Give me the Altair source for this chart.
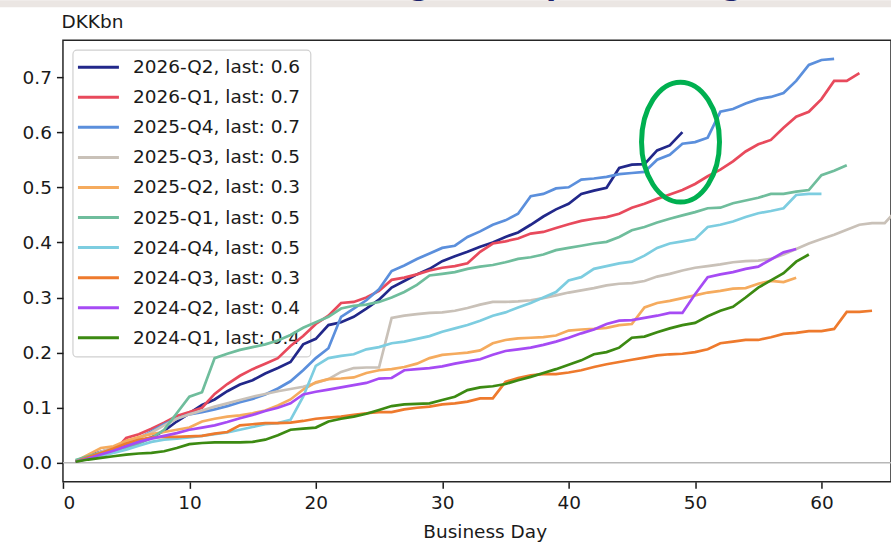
import altair as alt
import pandas as pd

# Cumulative purchases per quarter, by business day (DKK bn)
series_names = ["2026-Q2", "2026-Q1", "2025-Q4", "2025-Q3", "2025-Q2",
                "2025-Q1", "2024-Q4", "2024-Q3", "2024-Q2", "2024-Q1"]
series_colors = ["#22288a", "#e84a5c", "#5b8fdc", "#c9c1b8", "#f5ab5e",
                 "#6fbd9c", "#7dcde0", "#ee7a2d", "#a64bf4", "#3c8a12"]

q2_2026 = [0.003, 0.013, 0.02, 0.026, 0.033, 0.04, 0.046, 0.058, 0.075, 0.09,
           0.105, 0.115, 0.13, 0.142, 0.15, 0.162, 0.172, 0.183, 0.215, 0.225,
           0.25, 0.255, 0.265, 0.28, 0.296, 0.318, 0.33, 0.342, 0.352, 0.366,
           0.375, 0.383, 0.392, 0.4, 0.41, 0.418, 0.432, 0.447, 0.46, 0.47,
           0.488, 0.494, 0.499, 0.535, 0.541, 0.542, 0.567, 0.576, 0.6]
q1_2026 = [0.002, 0.008, 0.013, 0.02, 0.045, 0.052, 0.062, 0.073, 0.085, 0.092,
           0.1, 0.125, 0.143, 0.158, 0.17, 0.18, 0.19, 0.212, 0.23, 0.252,
           0.267, 0.29, 0.292, 0.3, 0.312, 0.332, 0.336, 0.342, 0.349, 0.354,
           0.357, 0.362, 0.383, 0.398, 0.402, 0.407, 0.416, 0.419, 0.426, 0.433,
           0.439, 0.443, 0.446, 0.452, 0.463, 0.47, 0.479, 0.487, 0.495, 0.506,
           0.52, 0.532, 0.547, 0.565, 0.578, 0.586, 0.608, 0.628, 0.637, 0.66,
           0.693, 0.693, 0.707]
q4_2025 = [0.003, 0.01, 0.016, 0.022, 0.03, 0.045, 0.057, 0.07, 0.08, 0.088,
           0.092, 0.097, 0.103, 0.11, 0.116, 0.124, 0.135, 0.148, 0.168, 0.19,
           0.208, 0.265, 0.28, 0.295, 0.315, 0.348, 0.358, 0.37, 0.38, 0.39,
           0.394, 0.41, 0.42, 0.432, 0.44, 0.452, 0.484, 0.488, 0.498, 0.5,
           0.514, 0.516, 0.519, 0.524, 0.526, 0.528, 0.55, 0.559, 0.579, 0.582,
           0.59, 0.637, 0.642, 0.652, 0.66, 0.664, 0.671, 0.693, 0.722, 0.731,
           0.733]
q3_2025 = [0.002, 0.01, 0.02, 0.028, 0.036, 0.045, 0.055, 0.068, 0.08, 0.088,
           0.095, 0.102, 0.108, 0.114, 0.12, 0.125, 0.13, 0.134, 0.138, 0.145,
           0.152, 0.165, 0.172, 0.173, 0.173, 0.263, 0.267, 0.27, 0.272, 0.273,
           0.276, 0.281, 0.287, 0.292, 0.292, 0.293, 0.295, 0.299, 0.304, 0.309,
           0.313, 0.317, 0.322, 0.325, 0.326, 0.33, 0.338, 0.343, 0.349, 0.354,
           0.357, 0.36, 0.364, 0.366, 0.367, 0.37, 0.378, 0.388, 0.398, 0.406,
           0.414, 0.423, 0.432, 0.435, 0.435, 0.46]
q2_2025 = [0.003, 0.015, 0.027, 0.03, 0.04, 0.047, 0.052, 0.056, 0.06, 0.064,
           0.075, 0.08, 0.084, 0.086, 0.09, 0.095, 0.104, 0.115, 0.133, 0.146,
           0.152, 0.153, 0.155, 0.163, 0.168, 0.17, 0.174, 0.18, 0.19, 0.196,
           0.198, 0.2, 0.204, 0.217, 0.223, 0.226, 0.227, 0.228, 0.231, 0.24,
           0.242, 0.243, 0.245, 0.25, 0.252, 0.282, 0.29, 0.294, 0.299, 0.304,
           0.309, 0.312, 0.316, 0.317, 0.325, 0.33, 0.328, 0.336]
q1_2025 = [0.005, 0.012, 0.018, 0.022, 0.028, 0.035, 0.045, 0.06, 0.09, 0.12,
           0.128, 0.19, 0.198, 0.205, 0.21, 0.215, 0.222, 0.232, 0.245, 0.255,
           0.265, 0.28, 0.285, 0.287, 0.292, 0.3, 0.31, 0.323, 0.34, 0.343,
           0.346, 0.352, 0.356, 0.359, 0.364, 0.37, 0.373, 0.378, 0.386, 0.39,
           0.394, 0.398, 0.401, 0.41, 0.422, 0.428, 0.436, 0.443, 0.449, 0.455,
           0.462, 0.463, 0.471, 0.476, 0.481, 0.488, 0.488, 0.492, 0.495, 0.522,
           0.53, 0.54]
q4_2024 = [0.002, 0.008, 0.013, 0.018, 0.024, 0.031, 0.038, 0.042, 0.044, 0.046,
           0.049, 0.052, 0.055, 0.06, 0.065, 0.07, 0.072, 0.078, 0.12, 0.176,
           0.19, 0.194, 0.197, 0.206, 0.21, 0.217, 0.22, 0.225, 0.23, 0.238,
           0.244, 0.25, 0.258, 0.267, 0.273, 0.282, 0.29, 0.3, 0.31, 0.331,
           0.337, 0.352, 0.357, 0.362, 0.365, 0.376, 0.39, 0.398, 0.402, 0.406,
           0.428, 0.432, 0.438, 0.446, 0.453, 0.457, 0.462, 0.486, 0.488, 0.488]
q3_2024 = [0.002, 0.01, 0.018, 0.026, 0.035, 0.042, 0.046, 0.047, 0.047, 0.048,
           0.049, 0.053, 0.056, 0.068, 0.07, 0.072, 0.072, 0.073, 0.076, 0.08,
           0.082, 0.084, 0.087, 0.09, 0.092, 0.092, 0.097, 0.1, 0.102, 0.106,
           0.108, 0.111, 0.117, 0.117, 0.147, 0.154, 0.159, 0.161, 0.161, 0.164,
           0.168, 0.174, 0.179, 0.183, 0.187, 0.191, 0.195, 0.197, 0.198, 0.201,
           0.206, 0.217, 0.22, 0.223, 0.223, 0.228, 0.234, 0.236, 0.239, 0.239,
           0.243, 0.274, 0.274, 0.276]
q2_2024 = [0.002, 0.008, 0.015, 0.022, 0.03, 0.038, 0.044, 0.049, 0.054, 0.06,
           0.064, 0.068, 0.074, 0.081, 0.087, 0.094, 0.1, 0.108, 0.124, 0.129,
           0.133, 0.137, 0.141, 0.145, 0.153, 0.154, 0.168, 0.17, 0.172, 0.175,
           0.18, 0.184, 0.188, 0.196, 0.203, 0.206, 0.209, 0.214, 0.22, 0.227,
           0.235, 0.242, 0.252, 0.258, 0.259, 0.263, 0.267, 0.272, 0.272, 0.306,
           0.337, 0.342, 0.346, 0.352, 0.356, 0.369, 0.382, 0.388]
q1_2024 = [0.002, 0.006, 0.009, 0.012, 0.015, 0.017, 0.018, 0.021, 0.027, 0.034,
           0.036, 0.037, 0.037, 0.037, 0.038, 0.042, 0.05, 0.06, 0.062, 0.064,
           0.075, 0.08, 0.084, 0.089, 0.096, 0.103, 0.106, 0.107, 0.108, 0.114,
           0.12, 0.132, 0.137, 0.139, 0.143, 0.15, 0.156, 0.163, 0.17, 0.178,
           0.186, 0.197, 0.201, 0.209, 0.227, 0.229, 0.237, 0.244, 0.25, 0.254,
           0.266, 0.276, 0.283, 0.3, 0.318, 0.331, 0.344, 0.365, 0.378]

all_series = [q2_2026, q1_2026, q4_2025, q3_2025, q2_2025,
              q1_2025, q4_2024, q3_2024, q2_2024, q1_2024]

x_ticks = [0, 10, 20, 30, 40, 50, 60]
y_ticks = [0.0, 0.1, 0.2, 0.3, 0.4, 0.5, 0.6, 0.7]
x_domain = [0, 65.5]
y_domain = [-0.0345, 0.767]

# highlighted region around the latest quarter's end point
highlight_center = (48.85, 0.582)

FONT = "DejaVu Sans"
FS = 18.5
INK = "#1a1a1a"

rows = []
for name, vals in zip(series_names, all_series):
    for day, v in enumerate(vals, start=1):
        rows.append({"series": name, "day": day, "value": v})
df = pd.DataFrame(rows)

legend_df = pd.DataFrame({
    "series": series_names,
    "label": [f"{n}, last: {vals[-1]:.1f}" for n, vals in zip(series_names, all_series)],
    "row": list(range(len(series_names))),
})

color = alt.Color("series:N", scale=alt.Scale(domain=series_names, range=series_colors),
                  legend=None)

x_enc = alt.X("day:Q", scale=alt.Scale(domain=x_domain, nice=False, zero=False),
              axis=alt.Axis(values=x_ticks, title="Business Day", format="d",
                            labelFont=FONT, labelFontSize=FS, labelColor=INK,
                            titleFont=FONT, titleFontSize=FS, titleColor=INK,
                            titleFontWeight="normal", titleY=56, titleX=422,
                            titleAlign="center", titleBaseline="alphabetic",
                            tickSize=6.5, tickWidth=1.5, tickColor=INK, labelPadding=5,
                            domain=False, grid=False))
y_enc = alt.Y("value:Q", scale=alt.Scale(domain=y_domain, nice=False, zero=False),
              axis=alt.Axis(values=y_ticks, format=".1f", title="DKKbn",
                            labelFont=FONT, labelFontSize=FS, labelColor=INK,
                            titleFont=FONT, titleFontSize=FS, titleColor=INK,
                            titleFontWeight="normal", titleAngle=0, titleAlign="left",
                            titleBaseline="alphabetic", titleX=-2, titleY=-13,
                            tickSize=6.5, tickWidth=1.5, tickColor=INK, labelPadding=5,
                            domain=False, grid=False))

one_row = alt.Data(values=[{}])

# slide header strip above the figure
band = alt.Chart(one_row).mark_rect(color="#ebe6e3").encode(
    x=alt.value(-63), x2=alt.value(830), y=alt.value(-40), y2=alt.value(-33))
header_bits = [
    alt.Chart(one_row).mark_text(text=ch, font=FONT, fontSize=30, fontWeight="bold",
                                 color="#1b1f6b", align="center", baseline="alphabetic")
    .encode(x=alt.value(px), y=alt.value(-45))
    for ch, px in [("g", 357), ("p", 494), ("g", 670)]
]

zero_line = alt.Chart(one_row).mark_rule(color="#b8b8b8", strokeWidth=1.5).encode(
    y=alt.datum(0))

# legend box drawn underneath the series lines
legend_box = alt.Chart(one_row).mark_rect(
    fill="white", stroke="#d0d0d0", strokeWidth=1.2, cornerRadius=4).encode(
    x=alt.value(10), x2=alt.value(248), y=alt.value(10), y2=alt.value(317))
legend_base = alt.Chart(legend_df).transform_calculate(ly="27 + 30.1 * datum.row")
legend_handles = legend_base.mark_rule(strokeWidth=3).encode(
    x=alt.value(15), x2=alt.value(56), y=alt.Y("ly:Q", scale=None), color=color)
legend_text = legend_base.mark_text(
    align="left", baseline="middle", font=FONT, fontSize=FS, color=INK).encode(
    x=alt.value(70), y=alt.Y("ly:Q", scale=None), text="label:N")

lines = alt.Chart(df).mark_line(strokeWidth=2.7, clip=True).encode(
    x=x_enc, y=y_enc, color=color, detail="series:N")

ellipse_path = ("M 0.65 0 C 0.65 0.5523 0.359 1 0 1 C -0.359 1 -0.65 0.5523 -0.65 0 "
                "C -0.65 -0.5523 -0.359 -1 0 -1 C 0.359 -1 0.65 -0.5523 0.65 0 Z")
highlight = alt.Chart(one_row).mark_point(
    shape=ellipse_path, size=14400, filled=False, stroke="#00b050",
    strokeWidth=5, opacity=1).encode(
    x=alt.datum(highlight_center[0]), y=alt.datum(highlight_center[1]))

chart = alt.layer(
    band, *header_bits, zero_line, legend_box, legend_handles, legend_text,
    lines, highlight
).properties(
    width=828.6, height=442,
    autosize=alt.AutoSizeParams(type="none"),
    padding={"left": 63, "top": 40, "right": 0, "bottom": 61},
    background="white",
).configure_view(stroke="#262626", strokeWidth=1.5)

chart.save("out.html", embed_options={"renderer": "svg", "actions": False})
